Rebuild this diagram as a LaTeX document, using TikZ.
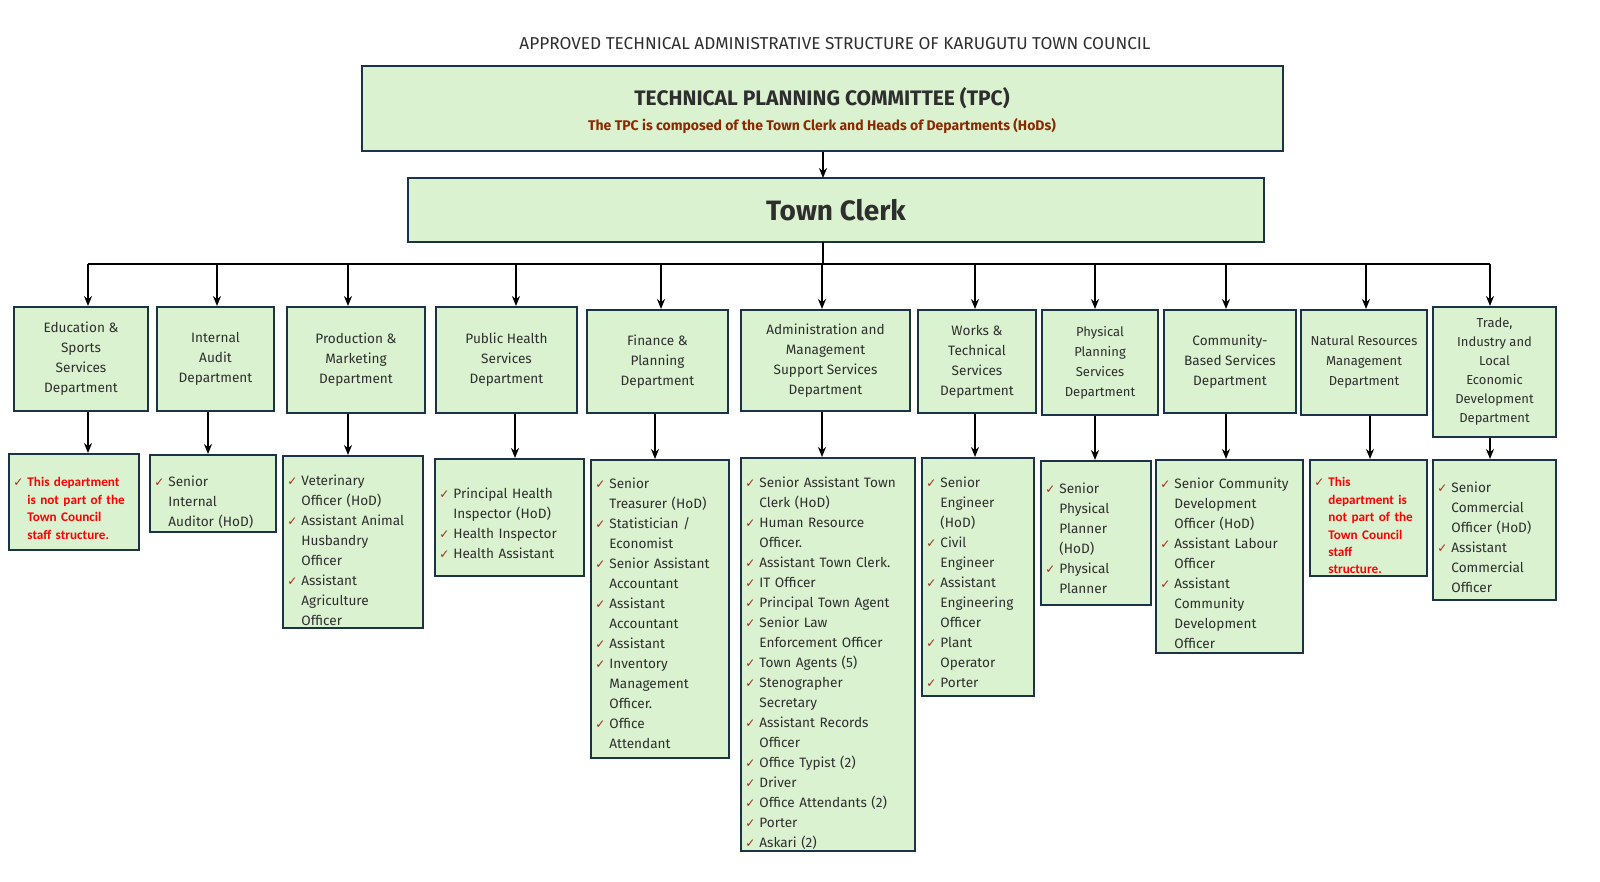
\documentclass[tikz,border=0pt]{standalone}
\usepackage{fontspec}
\setmainfont{Fira Sans}
\newfontfamily\ckfont{DejaVu Sans}
\newfontfamily\notefont{Carlito}
\usetikzlibrary{arrows.meta}
\definecolor{boxfill}{HTML}{DAF2D0}
\definecolor{boxline}{HTML}{1B3346}
\definecolor{txt}{HTML}{2E2E2E}
\definecolor{chk}{HTML}{A0301A}
\definecolor{brown}{HTML}{8B2A00}
\newcommand{\ck}{\par\noindent\hangindent=7pt\hangafter=1\makebox[7pt][l]{\textcolor{chk}{\ckfont\fontsize{6}{10}\selectfont ✓}}}
\newcommand{\nl}{\newline}
\newcommand{\bx}[5]{\node[box,minimum width={(#4-#2)*0.5pt},minimum height={(#5-#3)*0.5pt}] (#1) at ({(#2+#4)/2},{(#3+#5)/2}) {};}
\tikzset{
 box/.style={draw=boxline,fill=boxfill,line width=1pt,inner sep=0pt},
 hd/.style={text=txt,align=center,font=\fontsize{6.8}{10}\selectfont,inner sep=0pt},
 lst/.style={text=txt,anchor=north west,text width=#1,font=\fontsize{6.8}{10}\selectfont\raggedright,inner sep=0pt},
 note/.style={text=red,anchor=north west,text width=#1,font=\notefont\bfseries\fontsize{6.6}{8.7}\selectfont\raggedright,inner sep=0pt},
 arr/.style={-{Stealth[length=5pt,width=4pt]},line width=0.9pt}
}
\begin{document}
\begin{tikzpicture}[x=0.5pt,y=-0.5pt]
\useasboundingbox (0,0) rectangle (1600,882);
\node[text=txt,font=\fontsize{8.6}{10}\selectfont] (title) at (835,44) {APPROVED TECHNICAL ADMINISTRATIVE STRUCTURE OF KARUGUTU TOWN COUNCIL};
\bx{tpc}{362}{66}{1283}{151}
\node[text=txt,font=\bfseries\fontsize{10.5}{12}\selectfont] (tpct) at (822,98) {TECHNICAL PLANNING COMMITTEE (TPC)};
\node[text=brown,font=\bfseries\fontsize{7}{9}\selectfont] (tpcs) at (822,126) {The TPC is composed of the Town Clerk and Heads of Departments (HoDs)};
\bx{tc}{408}{178}{1264}{242}
\node[text=txt,font=\bfseries\fontsize{14}{16}\selectfont] (tct) at (836,210) {Town Clerk};
\draw[arr] (tpc.south -| 823,0) -- (823,178);
% departments
\bx{d1}{14}{307}{148}{411}
\bx{d2}{157}{307}{274}{411}
\bx{d3}{287}{307}{425}{413}
\bx{d4}{436}{307}{577}{413}
\bx{d5}{587}{310}{728}{413}
\bx{d6}{741}{310}{910}{411}
\bx{d7}{918}{310}{1036}{413}
\bx{d8}{1042}{310}{1158}{415}
\bx{d9}{1164}{310}{1296}{413}
\bx{d10}{1301}{310}{1427}{415}
\bx{d11}{1433}{307}{1556}{437}
\node[hd] at (d1) {Education \&\\Sports\\Services\\Department};
\node[hd] at (d2) {Internal\\Audit\\Department};
\node[hd] at (d3) {Production \&\\Marketing\\Department};
\node[hd] at (d4) {Public Health\\Services\\Department};
\node[hd] at (d5) {Finance \&\\Planning\\Department};
\node[hd] at (d6) {Administration and\\Management\\Support Services\\Department};
\node[hd] at (d7) {Works \&\\Technical\\Services\\Department};
\node[hd,font=\fontsize{6.5}{10}\selectfont] at (d8) {Physical\\Planning\\Services\\Department};
\node[hd] at (d9) {Community-\\Based Services\\Department};
\node[hd,font=\fontsize{6.5}{10}\selectfont] at (d10) {Natural Resources\\Management\\Department};
\node[hd,font=\fontsize{6.5}{9.5}\selectfont] at (d11) {Trade,\\Industry and\\Local\\Economic\\Development\\Department};
% bus
\draw[line width=0.9pt] (88,264) -- (1490,264);
\draw[line width=0.9pt] (823,242) -- (823,264);
\foreach \n/\x in {d1/88,d2/217,d3/348,d4/516,d5/661,d6/822,d7/975,d8/1095,d9/1226,d10/1366,d11/1490}
  \draw[arr] (\x,264) -- (\n.north -| \x,0);
% lists
\bx{l1}{9}{454}{139}{550}
\bx{l2}{150}{455}{276}{532}
\bx{l3}{283}{456}{423}{628}
\bx{l4}{435}{459}{584}{576}
\bx{l5}{591}{460}{729}{758}
\bx{l6}{741}{458}{915}{851}
\bx{l7}{922}{458}{1034}{696}
\bx{l8}{1041}{461}{1151}{605}
\bx{l9}{1156}{460}{1303}{653}
\bx{l10}{1310}{460}{1427}{576}
\bx{l11}{1433}{460}{1556}{600}
\foreach \d/\l/\x in {d1/l1/88,d2/l2/208,d3/l3/348,d4/l4/515,d5/l5/655,d6/l6/822,d7/l7/975,d8/l8/1095,d9/l9/1226,d10/l10/1370,d11/l11/1490}
  \draw[arr] (\d.south -| \x,0) -- (\l.north -| \x,0);
\node[note=62pt] at (13,469) {\ck This department\nl is not part of the\nl Town Council\nl staff structure.\par};
\node[lst=60pt] at (154,466) {\ck Senior\nl Internal\nl Auditor (HoD)\par};
\node[lst=68pt] at (287,465) {\ck Veterinary\nl Officer (HoD)\ck Assistant Animal\nl Husbandry\nl Officer\ck Assistant\nl Agriculture\nl Officer\par};
\node[lst=72pt] at (439,478) {\ck Principal Health\nl Inspector (HoD)\ck Health Inspector\ck Health Assistant\par};
\node[lst=68pt] at (595,468) {\ck Senior\nl Treasurer (HoD)\ck Statistician /\nl Economist\ck Senior Assistant\nl Accountant\ck Assistant\nl Accountant\ck Assistant\ck Inventory\nl Management\nl Officer.\ck Office\nl Attendant\par};
\node[lst=84pt] at (745,467) {\ck Senior Assistant Town\nl Clerk (HoD)\ck Human Resource\nl Officer.\ck Assistant Town Clerk.\ck IT Officer\ck Principal Town Agent\ck Senior Law\nl Enforcement Officer\ck Town Agents (5)\ck Stenographer\nl Secretary\ck Assistant Records\nl Officer\ck Office Typist (2)\ck Driver\ck Office Attendants (2)\ck Porter\ck Askari (2)\par};
\node[lst=54pt] at (926,467) {\ck Senior\nl Engineer\nl (HoD)\ck Civil\nl Engineer\ck Assistant\nl Engineering\nl Officer\ck Plant\nl Operator\ck Porter\par};
\node[lst=53pt] at (1045,473) {\ck Senior\nl Physical\nl Planner\nl (HoD)\ck Physical\nl Planner\par};
\node[lst=72pt] at (1160,468) {\ck Senior Community\nl Development\nl Officer (HoD)\ck Assistant Labour\nl Officer\ck Assistant\nl Community\nl Development\nl Officer\par};
\node[note=56pt] at (1314,469) {\ck This\nl department is\nl not part of the\nl Town Council\nl staff\nl structure.\par};
\node[lst=60pt] at (1437,472) {\ck Senior\nl Commercial\nl Officer (HoD)\ck Assistant\nl Commercial\nl Officer\par};
\end{tikzpicture}
\end{document}
